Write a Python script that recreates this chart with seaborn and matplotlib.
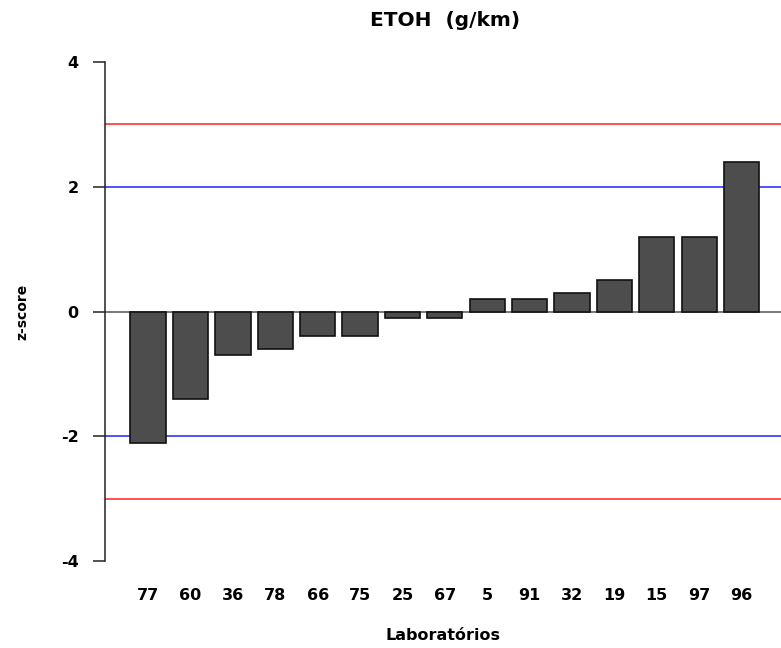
import pandas as pd
import matplotlib
matplotlib.use('Agg')
import matplotlib.pyplot as plt
import seaborn as sns

# z-scores por laboratório
labs = ['77', '60', '36', '78', '66', '75', '25', '67', '5', '91', '32', '19', '15', '97', '96']
zscores = [-2.1, -1.4, -0.7, -0.6, -0.4, -0.4, -0.1, -0.1, 0.2, 0.2, 0.3, 0.5, 1.2, 1.2, 2.4]
y_ticks = [-4, -2, 0, 2, 4]

df = pd.DataFrame({'lab': labs, 'z': zscores})

sns.set_style('white')
plt.rcParams['font.family'] = ['DejaVu Sans']
plt.rcParams['text.color'] = 'black'
plt.rcParams['axes.labelcolor'] = 'black'
plt.rcParams['xtick.color'] = 'black'
plt.rcParams['ytick.color'] = 'black'

fig = plt.figure(figsize=(7.81, 6.48), dpi=100)
ax = fig.add_axes([105 / 781, 1 - 581 / 648, 676 / 781, 539 / 648])

# linhas de referência
ax.axhline(3, color='#ff2020', lw=1.1, zorder=1)
ax.axhline(-3, color='#ff2020', lw=1.1, zorder=1)
ax.axhline(2, color='#2020ff', lw=1.1, zorder=1)
ax.axhline(-2, color='#2020ff', lw=1.1, zorder=1)
ax.axhline(0, color='#555555', lw=1.1, zorder=1)

sns.barplot(data=df, x='lab', y='z', order=labs, color='#4d4d4d',
            edgecolor='#111111', linewidth=1.2, width=0.833, saturation=1, ax=ax, zorder=2)

ax.set_xlim(-1.017, 14.93)
ax.set_ylim(-4.32, 4.32)
ax.set_yticks(y_ticks)
ax.set_yticklabels([str(t) for t in y_ticks], fontsize=11.5, fontweight='bold')
ax.set_xticks(range(len(labs)))
ax.set_xticklabels(labs, fontsize=11.5, fontweight='bold')

for s in ['top', 'right', 'bottom']:
    ax.spines[s].set_visible(False)
ax.spines['left'].set_bounds(-4, 4)
ax.spines['left'].set_color('#222222')
ax.spines['left'].set_linewidth(1.1)
ax.tick_params(axis='y', left=True, length=9, width=1.1, color='#222222', pad=10)
ax.tick_params(axis='x', bottom=False, length=0, pad=5)

ax.set_xlabel('Laboratórios', fontsize=11.5, fontweight='bold', labelpad=18)
ax.set_ylabel('z-score', fontsize=10, fontweight='bold', labelpad=23)
fig.text(445 / 781, 1 - 20 / 648, 'ETOH  (g/km)', ha='center', va='center',
         fontsize=14.5, fontweight='bold')

fig.savefig('out.png', dpi=100)
